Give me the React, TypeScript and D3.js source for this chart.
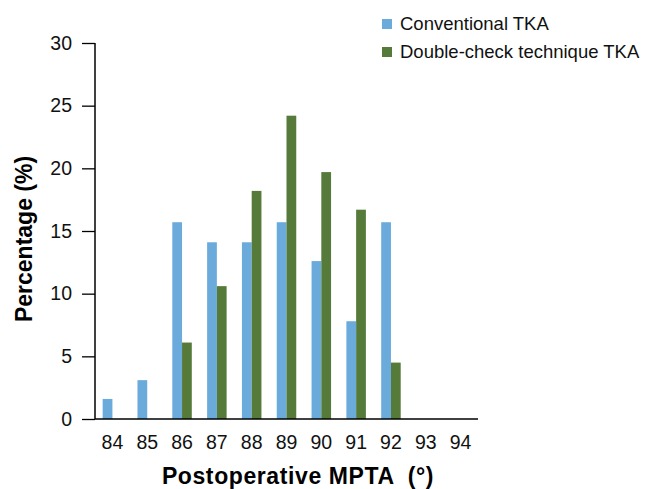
import React, { useEffect, useRef } from "react";
import * as d3 from "d3";

const categories = ["84", "85", "86", "87", "88", "89", "90", "91", "92", "93", "94"];
const conventional = [1.6, 3.1, 15.7, 14.1, 14.1, 15.7, 12.6, 7.8, 15.7, 0, 0];
const doubleCheck = [0, 0, 6.1, 10.6, 18.2, 24.2, 19.7, 16.7, 4.5, 0, 0];
const seriesNames = ["Conventional TKA", "Double-check technique TKA"];
const seriesColors = ["#6aabdc", "#557a39"];
const yTicks = [0, 5, 10, 15, 20, 25, 30];

const App: React.FC = () => {
  const svgRef = useRef<SVGSVGElement>(null);

  useEffect(() => {
    document.body.style.margin = "0";
    if (!svgRef.current) return;
    d3.select(svgRef.current).selectAll("*").remove();

    const width = 651;
    const height = 489;
    const margin = { top: 43, right: 173, bottom: 70, left: 95 };
    const font = "'Liberation Sans', Arial, sans-serif";

    const svg = d3
      .select(svgRef.current)
      .attr("width", width)
      .attr("height", height)
      .style("display", "block")
      .style("font-family", font);

    const x = d3
      .scaleBand()
      .domain(categories)
      .range([margin.left, width - margin.right]);

    const y = d3
      .scaleLinear()
      .domain([0, 30])
      .range([height - margin.bottom, margin.top]);

    const barW = x.bandwidth() * 0.28;
    const inner = d3.scaleBand().domain(["0", "1"]).range([0, barW * 2]);

    const values = [conventional, doubleCheck];
    values.forEach((vals, s) => {
      svg
        .append("g")
        .selectAll("rect")
        .data(vals.map((v, i) => ({ cat: categories[i], v })).filter((d) => d.v > 0))
        .enter()
        .append("rect")
        .attr("x", (d) => x(d.cat)! + x.bandwidth() / 2 - barW + inner(String(s))!)
        .attr("y", (d) => y(d.v))
        .attr("width", inner.bandwidth())
        .attr("height", (d) => y(0) - y(d.v))
        .attr("fill", seriesColors[s]);
    });

    // y axis
    const yAxis = svg
      .append("g")
      .attr("transform", `translate(${margin.left},0)`)
      .call(d3.axisLeft(y).tickValues(yTicks).tickSize(13).tickPadding(10));
    yAxis.attr("font-size", null).attr("font-family", null);
    yAxis.select(".domain").attr("stroke", "#000").attr("stroke-width", 1.5).attr("d", `M0,${y(30)}V${y(0)}`);
    yAxis.selectAll(".tick line").attr("stroke", "#000").attr("stroke-width", 1.3);
    yAxis.selectAll(".tick text").style("font-size", "19.5px").attr("fill", "#111");

    // x axis
    const xAxis = svg
      .append("g")
      .attr("transform", `translate(0,${y(0)})`)
      .call(d3.axisBottom(x).tickSize(0).tickPadding(16));
    xAxis.attr("font-size", null).attr("font-family", null);
    xAxis.select(".domain").attr("stroke", "#000").attr("stroke-width", 1.5).attr("d", `M${margin.left},0H${width - margin.right}`);
    xAxis.selectAll(".tick text").style("font-size", "19.5px").attr("fill", "#111");

    svg
      .append("text")
      .attr("x", 298)
      .attr("y", 484)
      .attr("text-anchor", "middle")
      .style("font-size", "23px")
      .style("letter-spacing", "0.6px")
      .style("white-space", "pre")
      .attr("font-weight", "bold")
      .text("Postoperative MPTA  (°)");

    svg
      .append("text")
      .attr("transform", `translate(32,239) rotate(-90)`)
      .attr("text-anchor", "middle")
      .style("font-size", "23px")
      .attr("font-weight", "bold")
      .text("Percentage (%)");

    const legend = svg.append("g").attr("transform", "translate(382,19)");
    seriesNames.forEach((name, i) => {
      const g = legend.append("g").attr("transform", `translate(0,${i * 28})`);
      g.append("rect").attr("width", 10).attr("height", 10).attr("fill", seriesColors[i]);
      g.append("text").attr("x", 18).attr("y", 10.5).style("font-size", "18.5px").attr("fill", "#111").text(name);
    });
  }, []);

  return <svg ref={svgRef} />;
};

export default App;
